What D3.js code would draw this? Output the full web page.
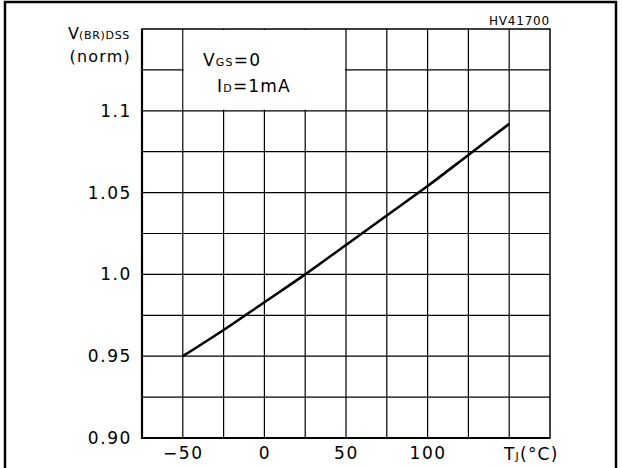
<!DOCTYPE html>
<html>
<head>
<meta charset="utf-8">
<script src="https://cdn.jsdelivr.net/npm/d3@7"></script>
<style>
  body { margin: 0; background: #fff; }
  text { font-family: "DejaVu Sans", sans-serif; fill: #000; }
</style>
</head>
<body>
<div id="chart"></div>
<script>
// curve: junction temperature vs normalised V(BR)DSS
const tempC = [-50, -25, 0, 25, 50, 75, 100, 125, 150];
const vbrNorm = [0.95, 0.966, 0.983, 1.0, 1.018, 1.036, 1.054, 1.073, 1.092];

const xTicks = [-50, 0, 50, 100];
const xTickLabels = ['\u221250', '0', '50', '100'];
const yTicks = [0.90, 0.95, 1.0, 1.05, 1.1];
const yTickLabels = ['0.90', '0.95', '1.0', '1.05', '1.1'];
const xGrid = [-50, -25, 0, 25, 50, 75, 100, 125, 150];
const yGrid = [0.925, 0.95, 0.975, 1.0, 1.025, 1.05, 1.075, 1.1, 1.125];

const W = 622, H = 468;
const margin = {top: 29, right: 72, bottom: 30, left: 142};

const x = d3.scaleLinear().domain([-75, 175]).range([margin.left, W - margin.right]);
const y = d3.scaleLinear().domain([0.9, 1.15]).range([H - margin.bottom, margin.top]);

const svg = d3.select('#chart').append('svg')
    .attr('width', W)
    .attr('height', H);

// outer frame
svg.append('rect')
    .attr('x', 5).attr('y', 2)
    .attr('width', 611).attr('height', H + 10)
    .style('fill', 'none')
    .style('stroke', '#000')
    .style('stroke-width', 2.5);

// grid
const grid = svg.append('g').style('stroke', '#000').style('stroke-width', 1.2);
grid.selectAll('line.v').data(xGrid).join('line')
    .attr('class', 'v')
    .attr('x1', d => x(d)).attr('x2', d => x(d))
    .attr('y1', y.range()[1]).attr('y2', y.range()[0]);
grid.selectAll('line.h').data(yGrid).join('line')
    .attr('class', 'h')
    .attr('x1', x.range()[0]).attr('x2', x.range()[1])
    .attr('y1', d => y(d)).attr('y2', d => y(d));

// box for conditions, blanks the grid behind it
svg.append('rect')
    .attr('x', x(-50) + 1)
    .attr('y', y(1.15) + 1)
    .attr('width', x(50) - x(-50) - 2)
    .attr('height', y(1.1) - y(1.15) - 2)
    .style('fill', '#fff');

// plot border
svg.append('rect')
    .attr('x', x.range()[0]).attr('y', y.range()[1])
    .attr('width', x.range()[1] - x.range()[0])
    .attr('height', y.range()[0] - y.range()[1])
    .style('fill', 'none')
    .style('stroke', '#000')
    .style('stroke-width', 1.5);
svg.append('path')
    .attr('d', `M${x.range()[0]},${y.range()[1]}V${y.range()[0]}H${x.range()[1]}`)
    .style('fill', 'none')
    .style('stroke', '#000')
    .style('stroke-width', 2.2);

// tick labels
const xAxis = svg.append('g')
    .attr('transform', `translate(0,${y.range()[0]})`)
    .call(d3.axisBottom(x).tickValues(xTicks).tickSize(0).tickPadding(9)
        .tickFormat((d, i) => xTickLabels[i]));
const yAxis = svg.append('g')
    .attr('transform', `translate(${x.range()[0]},0)`)
    .call(d3.axisLeft(y).tickValues(yTicks).tickSize(0).tickPadding(10)
        .tickFormat((d, i) => yTickLabels[i]));
[xAxis, yAxis].forEach(a => {
    a.select('.domain').remove();
    a.selectAll('text')
        .style('font-family', '"DejaVu Sans", sans-serif')
        .style('font-size', '17px')
        .style('letter-spacing', '1.6px');
});

// curve
svg.append('path')
    .datum(tempC.map((t, i) => [t, vbrNorm[i]]))
    .attr('d', d3.line().x(d => x(d[0])).y(d => y(d[1])).curve(d3.curveCatmullRom))
    .style('fill', 'none')
    .style('stroke', '#000')
    .style('stroke-width', 2.6);

// axis titles
const yTitle = svg.append('text')
    .attr('x', 130).attr('y', 39)
    .attr('text-anchor', 'end');
yTitle.append('tspan').style('font-size', '16px').text('V');
yTitle.append('tspan').style('font-size', '11px').style('letter-spacing', '0.7px').text('(BR)DSS');
svg.append('text')
    .attr('x', 131).attr('y', 62)
    .attr('text-anchor', 'end')
    .style('font-size', '16px')
    .style('letter-spacing', '1.2px')
    .text('(norm)');

const xTitle = svg.append('text')
    .attr('x', 504).attr('y', 460)
    .style('letter-spacing', '1.2px');
xTitle.append('tspan').style('font-size', '17px').text('T');
xTitle.append('tspan').style('font-size', '11px').text('J');
xTitle.append('tspan').style('font-size', '17px').text('(\u00b0C)');

// conditions
const c1 = svg.append('text').attr('x', 203).attr('y', 66).style('letter-spacing', '1.2px');
c1.append('tspan').style('font-size', '17px').text('V');
c1.append('tspan').style('font-size', '11px').text('GS');
c1.append('tspan').style('font-size', '17px').text('=0');
const c2 = svg.append('text').attr('x', 217).attr('y', 92).style('letter-spacing', '1.2px');
c2.append('tspan').style('font-size', '17px').text('I');
c2.append('tspan').style('font-size', '11px').text('D');
c2.append('tspan').style('font-size', '17px').text('=1mA');

svg.append('text')
    .attr('x', 550).attr('y', 25)
    .attr('text-anchor', 'end')
    .style('font-size', '12px')
    .style('letter-spacing', '0.8px')
    .text('HV41700');
</script>
</body>
</html>
